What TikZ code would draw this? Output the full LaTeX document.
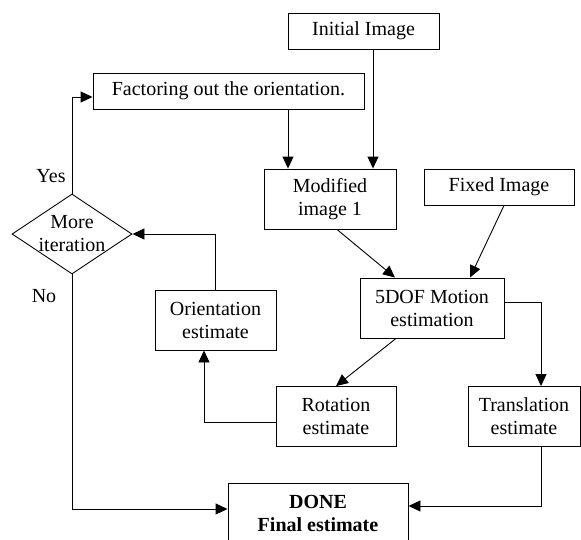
\documentclass[tikz,border=0pt]{standalone}
\usepackage{fontspec}
\setmainfont{Liberation Serif}
\usetikzlibrary{arrows.meta, positioning, shapes.geometric}

\tikzset{
  block/.style={draw, line width=0.9pt, inner sep=0pt, align=center, minimum height=36pt},
  tall/.style={block, minimum height=60pt},
  arr/.style={-{Triangle[length=12pt,width=11pt]}, line width=0.9pt},
}

\begin{document}
\begin{tikzpicture}[x=1pt, y=-1pt, font=\fontsize{20}{23}\selectfont, node distance=188pt, on grid]
    \useasboundingbox (0,0) rectangle (581,539);

      \node[block, minimum width=151] (init) at (363.5,31) {Initial Image};
      \node[block, minimum width=271] (fact) at (228.5,91) {Factoring out the orientation.};
      \node[tall, minimum width=132]  (mod) at (330,199) {Modified\\image 1};
      \node[block, minimum width=150] (fixed) at (499,187) {Fixed Image};
      \node[tall, minimum width=144]  (dof) at (432,308) {5DOF Motion\\estimation};
      \node[tall, minimum width=121]  (orient) at (215.5,320) {Orientation\\estimate};
      \node[tall, minimum width=120]  (rot) at (336,416.5) {Rotation\\estimate};
      \node[tall, minimum width=112]  (trans) [right=of rot] {Translation\\estimate};
      \node[tall, minimum width=180]  (done) at (318,513) {\textbf{DONE}\\\textbf{Final estimate}};

      \node[diamond, draw, line width=0.9pt, minimum width=120, minimum height=80, inner sep=0pt] (more) at (72,234) {};
      \node[align=center] (moretxt) at (more) {More\\iteration};
      \node (yes) at (51,176) {Yes};
      \node (no) at (44,296) {No};

      \draw[arr] ([xshift=9.5pt]init.south) -- ([xshift=9.5pt]init.south |- mod.north);
      \draw[arr] ([xshift=59.5pt]fact.south) -- ([xshift=59.5pt]fact.south |- mod.north);
      \draw[arr] ([xshift=7pt]mod.south) -- ([xshift=-37pt]dof.north);
      \draw[arr] ([xshift=5pt]fixed.south) -- ([xshift=38pt]dof.north);
      \draw[arr] ([yshift=6pt]dof.east) -| ([xshift=17pt]trans.north);
      \draw[arr] ([xshift=-36pt]dof.south) -- (rot.north);
      \draw[arr] ([yshift=-5.5pt]rot.west) -| ([xshift=-11.5pt]orient.south);
      \draw[arr] (orient.north) |- (more.east);
      \draw[arr] (more.north) |- ([yshift=-6pt]fact.west);
      \draw[arr] (more.south) |- ([yshift=4pt]done.west);
      \draw[arr] ([xshift=17pt]trans.south) |- ([yshift=7pt]done.east);
    \end{tikzpicture}
\end{document}
